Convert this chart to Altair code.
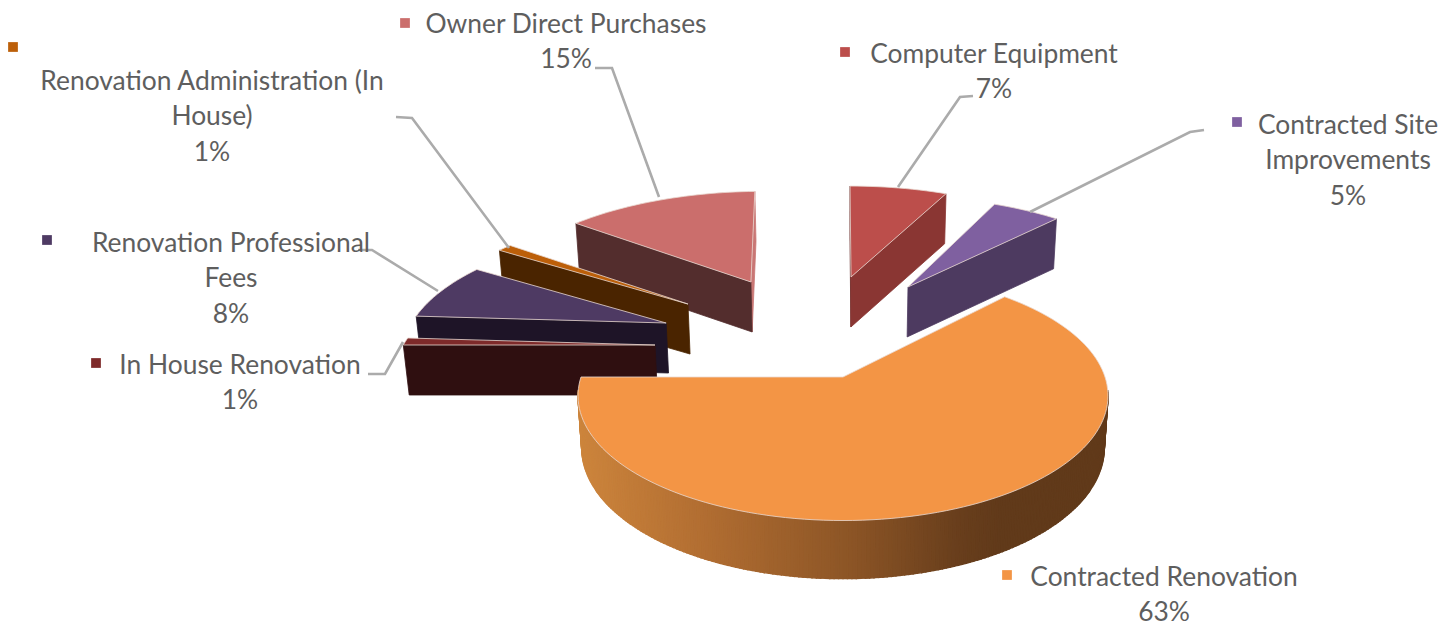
import math
import altair as alt

# ---- chart values ----
categories = ["Computer Equipment", "Contracted Site Improvements", "Contracted Renovation",
              "In House Renovation", "Renovation Professional Fees",
              "Renovation Administration (In House)", "Owner Direct Purchases"]
shares = [7, 5, 63, 1, 8, 1, 15]
top_colors = ["#BC4E4B", "#7F60A0", "#F39545", "#7E2A2A", "#4E3A63", "#BC5F09", "#CB6E6C"]
wall_colors = ["#8A3633", "#4D3A60", "#000000", "#2F0F10", "#1E1427", "#4A2400", "#532D2D"]
end_wall_colors = ["#6B2E2C", "#4D3A60", "#000000", "#2F0F10", "#1E1427", "#4A2400", "#C97775"]
key_colors = ["#BC4E4B", "#7F60A0", "#F39545", "#7E2A2A", "#4E3A63", "#BC5F09", "#CB6E6C"]
label_lines = [["Computer Equipment", "7%"], ["Contracted Site", "Improvements", "5%"],
               ["Contracted Renovation", "63%"], ["In House Renovation", "1%"],
               ["Renovation Professional", "Fees", "8%"],
               ["Renovation Administration (In", "House)", "1%"],
               ["Owner Direct Purchases", "15%"]]

# ---- layout (pixels of the page) ----
CX, CY, A, B, K = 843, 377, 262, 122, 0.15
explode = [(.035, .935, 1.11), (.279, .83, 1.07), (0, 0, 1), (-.747, .273, 1.0),
           (-.723, .474, 1.04), (-.65, .657, 1.07), (-.398, .882, 1.09)]
angle_trim = [(0, 0), (0, 0), (0, 0), (0, 0), (0, -1), (0, 0), (2, -2)]
visible_walls = [["start", "end"], ["end"], [], ["start"], ["start"], ["start"], ["end", "start"]]
draw_order = [0, 1, 6, 5, 4, 3, 2]
label_pos = [(994, 55), (1348, 126), (1164, 578), (240, 366), (231, 244), (212, 82), (566, 25)]
key_pos = [(845, 52), (1237, 122), (1007, 575), (96, 363), (47, 240), (13, 47), (405, 23)]
leaders = [[(973, 96), (960, 97), (898, 187)], [(1204, 130), (1190, 132), (1030, 212)],
           [(396, 117), (412, 118), (509, 248)], [(358, 250), (372, 250), (438, 291)],
           [(368, 374), (385, 374), (403, 342)], [(595, 68), (612, 68), (659, 197)]]
LINE_H = 35.3
FONT = "Lato"
FONT_SIZE = 26.4
gradient_stops = [(570, (206, 134, 61)), (700, (178, 110, 50)), (850, (140, 85, 38)),
                  (960, (104, 62, 28)), (1000, (97, 58, 26)), (1120, (97, 58, 26))]
OFF = 8
LEAN = 0.0137


def project(X, Y, drop=0.0):
    s = 1 / (1 + K * Y)
    x = A * X * s
    return [CX + x - x * LEAN * drop / 51 - OFF, CY - B * Y * s + drop - OFF]


def pt(i, th, r=None, drop=0.0):
    ex, ey, rr = explode[i]
    r = rr if r is None else r
    t = math.radians(th)
    return project(ex + r * math.sin(t), ey + r * math.cos(t), drop)


def wall_h(Y):
    return 51 * (1 + 0.14 * max(0, -Y))


def grad(x):
    for (a, ca), (b, cb) in zip(gradient_stops, gradient_stops[1:]):
        if a <= x <= b:
            f = (x - a) / (b - a)
            return "#%02x%02x%02x" % tuple(round(p + (q - p) * f) for p, q in zip(ca, cb))
    return "#613a1a"


def feature(ring, fill, stroke, width=0.8):
    ring = ring + [ring[0]]
    return {"type": "Feature", "geometry": {"type": "Polygon", "coordinates": [ring]},
            "properties": {"fill": fill, "stroke": stroke, "sw": width}}


# slice angles, clockwise from the back of the pie
starts, acc = [], 0.0
for v in shares:
    starts.append(acc * 3.6)
    acc += v

features = []
for i in draw_order:
    a0 = starts[i] + angle_trim[i][0]
    a1 = starts[i] + shares[i] * 3.6 + angle_trim[i][1]
    apex_top, apex_bot = pt(i, 0, 0), pt(i, 0, 0, 50)
    n = max(4, int(shares[i] * 2))
    angles = [a0 + (a1 - a0) * j / n for j in range(n + 1)]
    for w in visible_walls[i]:
        th = a0 if w == "start" else a1
        c = wall_colors[i] if w == visible_walls[i][-1] else end_wall_colors[i]
        if i == 6:
            c = end_wall_colors[i] if w == "end" else wall_colors[i]
        if i == 0:
            c = end_wall_colors[i] if w == "start" else wall_colors[i]
        features.append(feature([apex_top, pt(i, th), pt(i, th, None, 50), apex_bot], c, c))
    if shares[i] > 50:
        m = 200
        ths = [96 + (264 - 96) * j / m for j in range(m + 1)]
        for t0, t1 in zip(ths, ths[1:]):
            Y0, Y1 = math.cos(math.radians(t0)), math.cos(math.radians(t1))
            p0, p1 = pt(i, t0), pt(i, t1)
            fill = grad((p0[0] + p1[0]) / 2 + OFF)
            features.append(feature([p0, p1, pt(i, t1, None, wall_h(Y1)), pt(i, t0, None, wall_h(Y0))],
                                    fill, fill, 1.4))
    ring = [apex_top] + [pt(i, t) for t in angles]
    features.append(feature(ring, top_colors[i], "#ead9d2"))

shapes = alt.Chart(alt.Data(values=features)).mark_geoshape().encode(
    fill=alt.Fill("properties.fill:N", scale=None),
    stroke=alt.Stroke("properties.stroke:N", scale=None),
    strokeWidth=alt.StrokeWidth("properties.sw:Q", scale=None),
).project(type="identity", scale=1, translate=[0, 0])

line_rows = []
for k, path in enumerate(leaders):
    for j, (x, y) in enumerate(path):
        line_rows.append({"leader": k, "o": j, "x": x - OFF, "y": y - OFF})
lines = alt.Chart(alt.Data(values=line_rows)).mark_line(color="#ABABAB", strokeWidth=2.6).encode(
    x=alt.X("x:Q", scale=None, axis=None), y=alt.Y("y:Q", scale=None, axis=None),
    detail="leader:N", order="o:Q")

text_rows = []
for lines_i, (x, y) in zip(label_lines, label_pos):
    for j, t in enumerate(lines_i):
        text_rows.append({"t": t, "x": x - OFF, "y": y + j * LINE_H - OFF})
texts = alt.Chart(alt.Data(values=text_rows)).mark_text(
    font=FONT, fontSize=FONT_SIZE, color="#5E5E5E", align="center", baseline="middle").encode(
    x=alt.X("x:Q", scale=None, axis=None), y=alt.Y("y:Q", scale=None, axis=None), text="t:N")

key_rows = [{"x": x - OFF, "y": y - OFF, "c": c} for (x, y), c in zip(key_pos, key_colors)]
keys = alt.Chart(alt.Data(values=key_rows)).mark_square(size=95, opacity=1).encode(
    x=alt.X("x:Q", scale=None, axis=None), y=alt.Y("y:Q", scale=None, axis=None),
    fill=alt.Fill("c:N", scale=None), color=alt.value(None))

chart = alt.layer(shapes, lines, texts, keys).properties(
    width=1431, height=620, padding=0, autosize=alt.AutoSizeParams(type="none"),
    background="white"
).configure_view(stroke=None)

chart.save("out.html", embed_options={"renderer": "svg", "actions": False})
